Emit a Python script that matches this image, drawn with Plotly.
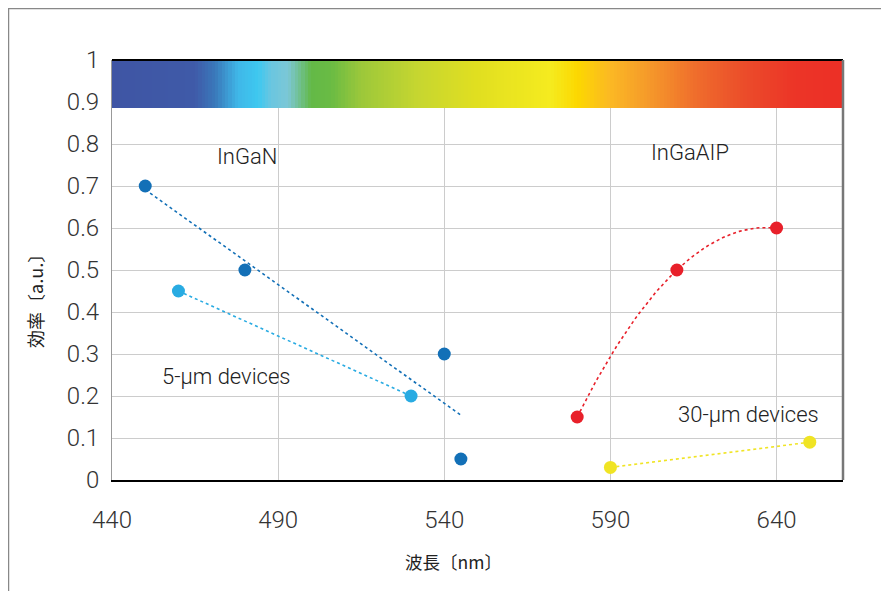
import numpy as np
import plotly.graph_objects as go

# ---- data ----
ingan_x = [450, 480, 540, 545]
ingan_y = [0.70, 0.50, 0.30, 0.05]
ingan5_x = [460, 530]
ingan5_y = [0.45, 0.20]
ingaalp_x = [580, 610, 640]
ingaalp_y = [0.15, 0.50, 0.60]
ingaalp30_x = [590, 650]
ingaalp30_y = [0.03, 0.09]

x_ticks = [440, 490, 540, 590, 640]
y_ticks = [0, 0.1, 0.2, 0.3, 0.4, 0.5, 0.6, 0.7, 0.8, 0.9, 1]
y_tick_labels = ["0", "0.1", "0.2", "0.3", "0.4", "0.5", "0.6", "0.7", "0.8", "0.9", "1"]

# spectrum strip (wavelength stops and colours)
spec_wl = [440, 465, 471, 478, 484, 488, 493, 500, 506, 515, 532, 550, 572, 580, 590, 602, 616, 631, 645, 660]
spec_col = ["#3f55a4", "#3f5aa8", "#3a78ba", "#3fb8e8", "#3ec8f0", "#6ac6e0", "#7cc7d6", "#63b947",
            "#6abb44", "#9cc83a", "#c6d630", "#e1df20", "#f5eb1f", "#fcd800", "#fbb824", "#f5982a",
            "#ef6c2c", "#eb4b2a", "#ec3527", "#ec2f26"]
strip_y = [0.886, 1.0]

fig = go.Figure()

# spectrum strip as a heatmap
edges = list(np.linspace(440, 660, 221))
centers = [(a + b) / 2 for a, b in zip(edges[:-1], edges[1:])]
cs = [[(w - 440) / 220, c] for w, c in zip(spec_wl, spec_col)]
fig.add_trace(go.Heatmap(x=edges, y=strip_y, z=[centers], colorscale=cs, zmin=440, zmax=660,
                         showscale=False, hoverinfo="skip"))

def add_fit(xs, ys, deg, color, x0, x1):
    p = np.polyfit(xs, ys, deg)
    xx = np.linspace(x0, x1, 60)
    fig.add_trace(go.Scatter(x=xx, y=np.polyval(p, xx), mode="lines",
                             line=dict(color=color, width=1.6, dash="dot"),
                             hoverinfo="skip", showlegend=False))

add_fit(ingan_x, ingan_y, 1, "#1370b7", min(ingan_x), max(ingan_x))
add_fit(ingan5_x, ingan5_y, 1, "#29abe2", min(ingan5_x), max(ingan5_x))
add_fit(ingaalp_x, ingaalp_y, 2, "#e8202a", min(ingaalp_x), max(ingaalp_x))
add_fit(ingaalp30_x, ingaalp30_y, 1, "#f0e424", min(ingaalp30_x), max(ingaalp30_x))

def add_pts(xs, ys, color):
    fig.add_trace(go.Scatter(x=xs, y=ys, mode="markers",
                             marker=dict(color=color, size=13, line=dict(width=0)),
                             showlegend=False))

add_pts(ingan_x, ingan_y, "#1370b7")
add_pts(ingan5_x, ingan5_y, "#29abe2")
add_pts(ingaalp_x, ingaalp_y, "#e8202a")
add_pts(ingaalp30_x, ingaalp30_y, "#f0e424")

latin = "Roboto, Noto Sans, sans-serif"
cjk = "Noto Sans CJK JP, Noto Sans, sans-serif"
ann_font = dict(family=latin, size=22, color="#222222", weight=300)
for txt, x, y in [("InGaN", 480.5, 0.77), ("InGaAIP", 614, 0.78),
                  ("5-µm devices", 474.5, 0.247), ("30-µm devices", 631.5, 0.157)]:
    fig.add_annotation(x=x, y=y, text=txt, showarrow=False, font=ann_font,
                       xanchor="center", yanchor="middle")

# axis titles
fig.add_annotation(xref="paper", yref="paper", x=0.4665, y=-0.193, text="波長〔nm〕",
                   xanchor="center", yanchor="middle",
                   showarrow=False, font=dict(family=cjk, size=17.5, color="#222222"))
fig.add_annotation(xref="paper", yref="paper", x=-0.1053, y=0.436, text="効率〔a.u.〕",
                   xanchor="center", yanchor="middle",
                   textangle=-90, showarrow=False, font=dict(family=cjk, size=18, color="#222222"))

# frame lines
fig.add_shape(type="line", xref="paper", yref="paper", x0=0, x1=1, y0=1, y1=1,
              line=dict(color="#000000", width=2))
fig.add_shape(type="line", xref="paper", yref="paper", x0=1, x1=1, y0=0, y1=1,
              line=dict(color="#777777", width=2.5))
# outer border (page frame)
fig.add_shape(type="path", xref="paper", yref="paper",
              path="M -0.1416 -0.3 L -0.1416 1.1226 L 1.1 1.1226",
              line=dict(color="#888888", width=1.5))

fig.update_layout(
    width=889, height=591,
    margin=dict(l=104, r=54, t=52, b=119),
    paper_bgcolor="white", plot_bgcolor="white",
    font=dict(family=latin, color="#222222"),
    showlegend=False,
    xaxis=dict(range=[440, 660], tickvals=x_ticks, ticktext=[str(v) for v in x_ticks],
               showgrid=True, gridcolor="#cccccc", gridwidth=1.2, zeroline=False,
               showline=True, linecolor="#000000", linewidth=2, ticks="",
               tickfont=dict(family=latin, size=24, color="#333333", weight=300), ticklabelstandoff=17),
    yaxis=dict(range=[0, 1], tickvals=y_ticks, ticktext=y_tick_labels,
               showgrid=True, gridcolor="#cccccc", gridwidth=1.2, zeroline=False,
               showline=True, linecolor="#999999", linewidth=1, ticks="",
               tickfont=dict(family=latin, size=24, color="#333333", weight=300), ticklabelstandoff=7),
)

fig.write_html("out.html")
